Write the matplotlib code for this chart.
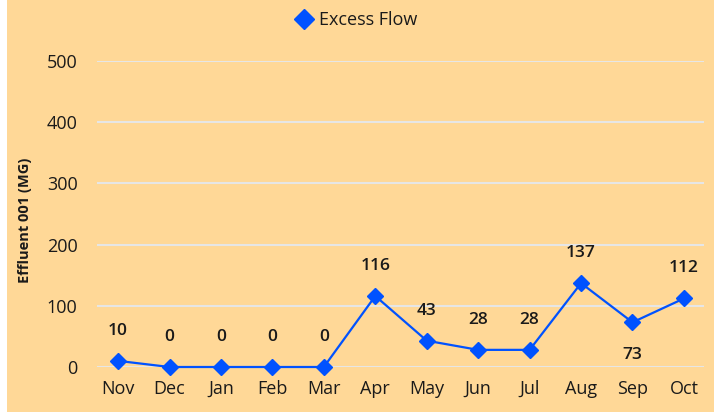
import matplotlib
matplotlib.use("Agg")
import matplotlib.pyplot as plt
from matplotlib.patches import Rectangle

months = ["Nov", "Dec", "Jan", "Feb", "Mar", "Apr", "May", "Jun", "Jul", "Aug", "Sep", "Oct"]
excess_flow = [10, 0, 0, 0, 0, 116, 43, 28, 28, 137, 73, 112]
label_below = [False, False, False, False, False, False, False, False, False, False, True, False]
yticks = [0, 100, 200, 300, 400, 500]

plt.rcParams['font.family'] = ['Open Sans', 'DejaVu Sans']

W, H = 716, 417
fig = plt.figure(figsize=(W / 100, H / 100), dpi=100)
fig.patch.set_facecolor("white")
bg = "#FFD897"
fig.patches.append(Rectangle((7 / W, 5 / H), (714 - 7) / W, 1 - 5 / H,
                             transform=fig.transFigure, facecolor=bg, edgecolor="none", zorder=-10))

ax = fig.add_axes([97 / W, (H - 367) / H, (704 - 97) / W, (367 - 61) / H])
ax.set_zorder(1)
ax.set_facecolor("none")
x = list(range(len(months)))
line_color = "#0052FF"
ax.plot(x, excess_flow, color=line_color, lw=1.6, marker="D", markersize=8.5,
        label="Excess Flow", clip_on=False, zorder=3)

for xi, v, below in zip(x, excess_flow, label_below):
    off = -33 if below else 30
    ax.annotate(f"{v}", (xi, v), xytext=(0, off * 0.72), textcoords="offset points",
                ha="center", va="center", fontsize=12.5, fontweight="semibold", color="#1a1a1a")

ax.set_xlim(-0.41, 11.39)
ax.set_ylim(0, 500)
ax.set_yticks(yticks)
ax.set_xticks(x)
ax.set_xticklabels(months)
ax.tick_params(axis="both", length=0, labelsize=13, colors="#1a1a1a")
ax.tick_params(axis="y", pad=14)
ax.tick_params(axis="x", pad=9.5)
ax.grid(axis="y", color="#E6E6E6", lw=1.5)
ax.set_axisbelow(True)
for s in ax.spines.values():
    s.set_visible(False)

fig.text(25 / W, 1 - 220 / H, "Effluent 001 (MG)", rotation=90, ha="center", va="center",
         fontsize=10.5, fontweight="bold", color="#1a1a1a")

leg = fig.legend(loc="center", bbox_to_anchor=(356 / W, 1 - 20 / H), frameon=False,
                 fontsize=13, handlelength=1.0, handletextpad=0.3, markerscale=1.25)
for h in leg.legend_handles:
    h.set_linestyle("none")
for t in leg.get_texts():
    t.set_color("#1a1a1a")

fig.savefig("out.png", dpi=100, facecolor=fig.get_facecolor())
